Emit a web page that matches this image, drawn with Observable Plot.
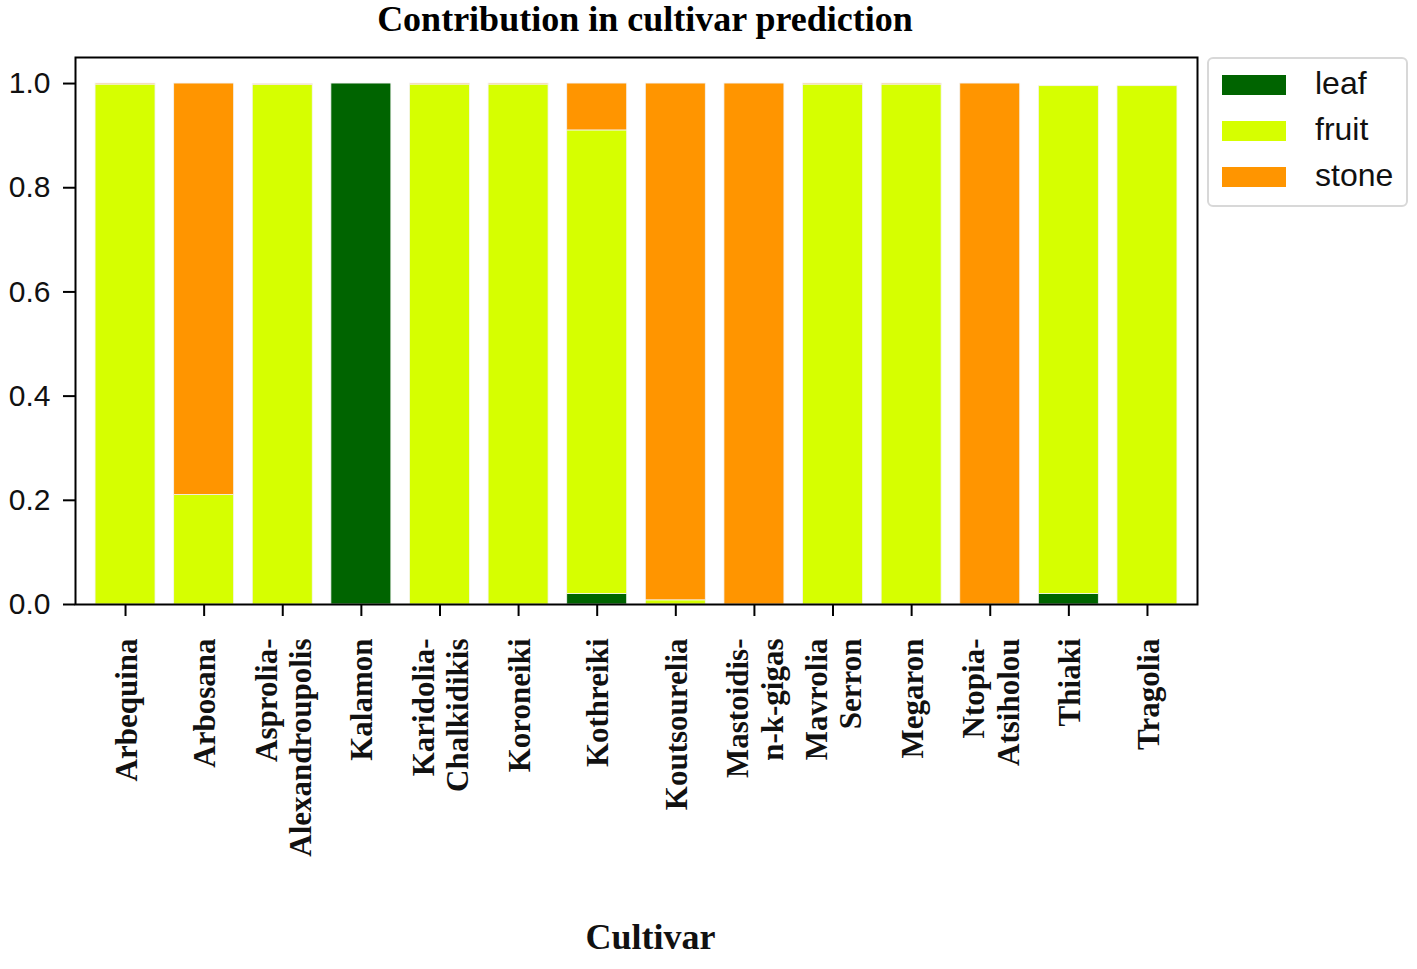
<!DOCTYPE html>
<html>
<head>
<meta charset="utf-8">
<script src="https://cdn.jsdelivr.net/npm/d3@7"></script>
<script src="https://cdn.jsdelivr.net/npm/@observablehq/plot@0.6"></script>
<style>
  body { margin: 0; background: #fff; }
  #wrap { position: relative; width: 1417px; height: 969px; overflow: hidden; }
  #title { position: absolute; left: 0; top: 0; width: 1290px; height: 38px; text-align: center;
           font: bold 36px "Liberation Serif", "Times New Roman", serif; line-height: 38px; color: #000; }
  #chart { position: absolute; left: 0; top: 38px; }
  #legend { position: absolute; left: 1207px; top: 57px; width: 201px; height: 150px;
            border: 2px solid #d8d8d8; border-radius: 6px; box-sizing: border-box; background: #fff; }
  .item { position: absolute; left: 13px; height: 24px; }
  .sw { position: absolute; left: 0; top: 2px; width: 64px; height: 20px; }
  .lab { position: absolute; left: 93px; top: -8px; font: 32px "Liberation Sans", Arial, sans-serif; color: #111; white-space: nowrap; }
</style>
</head>
<body>
<div id="wrap">
  <div id="title">Contribution in cultivar prediction</div>
  <div id="chart"></div>
  <div id="legend"></div>
</div>
<script>
const cultivars = ["Arbequina", "Arbosana", "Asprolia-Alexandroupolis", "Kalamon", "Karidolia-Chalkidikis",
  "Koroneiki", "Kothreiki", "Koutsourelia", "Mastoidis-n-k-gigas", "Mavrolia Serron", "Megaron",
  "Ntopia-Atsiholou", "Thiaki", "Tragolia"];
const tickLabels = ["Arbequina", "Arbosana", "Asprolia-\nAlexandroupolis", "Kalamon", "Karidolia-\nChalkidikis",
  "Koroneiki", "Kothreiki", "Koutsourelia", "Mastoidis-\nn-k-gigas", "Mavrolia\nSerron", "Megaron",
  "Ntopia-\nAtsiholou", "Thiaki", "Tragolia"];
const leaf  = [0.000, 0.000, 0.000, 1.000, 0.000, 0.000, 0.020, 0.000, 0.000, 0.000, 0.000, 0.000, 0.020, 0.000];
const fruit = [0.998, 0.210, 0.997, 0.000, 0.998, 0.998, 0.890, 0.008, 0.000, 0.998, 0.998, 0.000, 0.975, 0.995];
const stone = [0.002, 0.790, 0.002, 0.000, 0.002, 0.002, 0.090, 0.992, 1.000, 0.002, 0.002, 1.000, 0.000, 0.000];
const seriesNames = ["leaf", "fruit", "stone"];
const seriesColors = ["#006400", "#d6ff00", "#ff9500"];
const yTicks = [0.0, 0.2, 0.4, 0.6, 0.8, 1.0];

const seriesValues = [leaf, fruit, stone];
const rows = [];
seriesNames.forEach((s, k) => {
  cultivars.forEach((c, i) => rows.push({cultivar: c, part: s, value: seriesValues[k][i]}));
});

const chart = Plot.plot({
  width: 1417,
  height: 931,
  marginLeft: 75,
  marginRight: 220,
  marginTop: 19,
  marginBottom: 365,
  style: {background: "transparent"},
  x: {domain: cultivars, paddingInner: 0.237, paddingOuter: 0.255, round: false},
  y: {domain: [0, 1.05]},
  color: {domain: seriesNames, range: seriesColors},
  marks: [
    Plot.barY(rows.filter(r => r.value > 0), {x: "cultivar", y: "value", fill: "part", order: seriesNames,
      stroke: "#f4f4f4", strokeWidth: 0.8}),
    Plot.frame({stroke: "#000", strokeWidth: 2}),
    Plot.axisY({ticks: yTicks, tickFormat: d3.format(".1f"), tickSize: 12, tickPadding: 13,
      fontSize: 30, fontFamily: "Liberation Sans, Arial, sans-serif", fill: "#111",
      strokeWidth: 2, label: null}),
    Plot.axisX({tickSize: 12, tickRotate: -90, tickPadding: 22, strokeWidth: 2,
      tickFormat: (d) => tickLabels[cultivars.indexOf(d)],
      fontSize: 31, fontFamily: "Liberation Serif, Times New Roman, serif", fontWeight: "bold",
      lineHeight: 1.12, fill: "#111", label: null}),
    Plot.text(["Cultivar"], {frameAnchor: "bottom", dx: 14, dy: 344, fontSize: 36,
      fontFamily: "Liberation Serif, Times New Roman, serif", fontWeight: "bold", fill: "#111"})
  ]
});
document.getElementById("chart").appendChild(chart);

const legend = document.getElementById("legend");
seriesNames.forEach((s, k) => {
  const item = document.createElement("div");
  item.className = "item";
  item.style.top = (14 + k * 46) + "px";
  item.innerHTML = `<div class="sw" style="background:${seriesColors[k]}"></div><div class="lab">${s}</div>`;
  legend.appendChild(item);
});
</script>
</body>
</html>
